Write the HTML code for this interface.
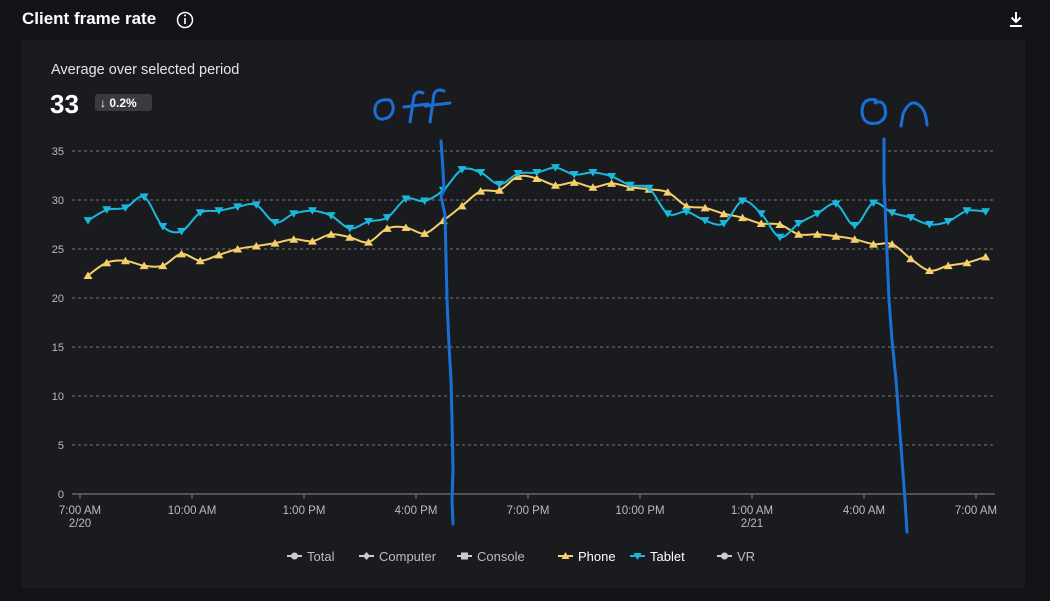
<!DOCTYPE html>
<html><head><meta charset="utf-8"><style>
body{margin:0;width:1050px;height:601px;background:#121316;font-family:"Liberation Sans",sans-serif;overflow:hidden;position:relative}
.title{position:absolute;left:22px;top:9px;color:#fff;font-weight:bold;font-size:17px}
.panel{position:absolute;left:22px;top:40px;width:1003px;height:548px;background:#1a1b1f}
</style></head><body>
<div class="title">Client frame rate</div>
<svg width="1050" height="601" style="position:absolute;left:0;top:0">
<circle cx="185" cy="20" r="7.5" fill="none" stroke="#fff" stroke-width="1.5"/>
<rect x="184.2" y="18" width="1.6" height="6" fill="#fff"/><circle cx="185" cy="15.5" r="1" fill="#fff"/>
<path d="M1016 12 v10 M1011.5 17.5 l4.5 4.5 l4.5 -4.5 M1010 26 h12" stroke="#fff" stroke-width="2" fill="none"/>
</svg>
<div class="panel"></div>
<svg id="c" width="1050" height="601" style="position:absolute;left:0;top:0" font-family="Liberation Sans, sans-serif">
<text x="51" y="74" fill="#e6e6e6" font-size="14.5">Average over selected period</text>
<text x="50" y="113" fill="#fff" font-size="26" font-weight="bold">33</text>
<rect x="95" y="94" width="57" height="17" rx="3" fill="#3a3b40"/>
<text x="100" y="107" fill="#fff" font-size="12" font-weight="bold">↓ 0.2%</text>
<g id="g"></g>
</svg>
<script>
const tab=[27.9,29.0,29.2,30.3,27.3,26.8,28.7,28.9,29.3,29.5,27.7,28.6,28.9,28.4,27.1,27.8,28.2,30.1,29.9,31.0,33.1,32.8,31.6,32.7,32.8,33.3,32.6,32.8,32.4,31.5,31.2,28.6,28.8,27.9,27.6,29.9,28.6,26.2,27.6,28.6,29.6,27.4,29.7,28.7,28.2,27.5,27.8,28.9,28.8];
const ph=[22.3,23.6,23.8,23.3,23.3,24.5,23.8,24.4,25.0,25.3,25.6,26.0,25.8,26.5,26.2,25.7,27.1,27.2,26.6,27.9,29.4,30.9,31.0,32.4,32.2,31.5,31.8,31.3,31.7,31.3,31.1,30.8,29.4,29.2,28.6,28.2,27.6,27.5,26.5,26.5,26.3,26.0,25.5,25.5,24.0,22.8,23.3,23.6,24.2];
const X=i=>88+i*18.7, Y=v=>494-v*9.8;
let s='';
for(let v=5;v<=35;v+=5){s+=`<line x1="72" x2="995" y1="${Y(v)}" y2="${Y(v)}" stroke="#777" stroke-dasharray="3,3" stroke-width="1"/>`;}
for(let v=0;v<=35;v+=5)s+=`<text x="64" y="${Y(v)+4}" fill="#bbb" font-size="11" text-anchor="end">${v}</text>`;
s+=`<line x1="72" x2="995" y1="494" y2="494" stroke="#888"/>`;
const lb=["7:00 AM","10:00 AM","1:00 PM","4:00 PM","7:00 PM","10:00 PM","1:00 AM","4:00 AM","7:00 AM"];
lb.forEach((t,k)=>{const x=80+k*112;s+=`<line x1="${x}" x2="${x}" y1="494" y2="499" stroke="#888"/><text x="${x}" y="514" fill="#bbb" font-size="11.5" text-anchor="middle">${t}</text>`;});
s+=`<text x="80" y="527" fill="#bbb" font-size="11.5" text-anchor="middle">2/20</text><text x="752" y="527" fill="#bbb" font-size="11.5" text-anchor="middle">2/21</text>`;
function path(a){const p=a.map((v,i)=>[X(i),Y(v)]);let d=`M${p[0]}`;for(let i=0;i<p.length-1;i++){const p0=p[i-1]||p[i],p1=p[i],p2=p[i+1],p3=p[i+2]||p2;const c1=[p1[0]+(p2[0]-p0[0])/6,p1[1]+(p2[1]-p0[1])/6],c2=[p2[0]-(p3[0]-p1[0])/6,p2[1]-(p3[1]-p1[1])/6];d+=`C${c1} ${c2} ${p2}`;}return d;}
s+=`<path d="${path(ph)}" stroke="#f5cf6a" stroke-width="2" fill="none"/>`;
ph.forEach((v,i)=>{const x=X(i),y=Y(v);s+=`<path d="M${x-4.5} ${y+3.5}L${x} ${y-4}L${x+4.5} ${y+3.5}Z" fill="#f5cf6a"/>`;});
s+=`<path d="${path(tab)}" stroke="#1ab8dc" stroke-width="2" fill="none"/>`;
tab.forEach((v,i)=>{const x=X(i),y=Y(v);s+=`<path d="M${x-4.5} ${y-3.5}L${x} ${y+4}L${x+4.5} ${y-3.5}Z" fill="#1ab8dc"/>`;});
const L=[["Total",287,"#ccc","c"],["Computer",359,"#ccc","d"],["Console",457,"#ccc","s"],["Phone",558,"#f5cf6a","u"],["Tablet",630,"#1ab8dc","v"],["VR",717,"#ccc","c"]];
L.forEach(([t,x,c,m])=>{s+=`<line x1="${x}" x2="${x+15}" y1="556" y2="556" stroke="${c}" stroke-width="2"/>`;const cx=x+7.5;
if(m=="c")s+=`<circle cx="${cx}" cy="556" r="3.5" fill="${c}"/>`;
if(m=="d")s+=`<path d="M${cx} 552L${cx+3.5} 556L${cx} 560L${cx-3.5} 556Z" fill="${c}"/>`;
if(m=="s")s+=`<rect x="${cx-3.5}" y="552.5" width="7" height="7" fill="${c}"/>`;
if(m=="u")s+=`<path d="M${cx-4} 559L${cx} 552L${cx+4} 559Z" fill="${c}"/>`;
if(m=="v")s+=`<path d="M${cx-4} 553L${cx} 560L${cx+4} 553Z" fill="${c}"/>`;
s+=`<text x="${x+20}" y="561" fill="${(m=='u'||m=='v')?'#fff':'#bbb'}" font-size="13">${t}</text>`;});
s+=`<g stroke="#1a6fd6" stroke-width="3" fill="none" stroke-linecap="round">
<path d="M441 141 L443 170 L444 190 L441 196 L445 215 L447 300 L449 345 L451 380 L452 420 L453 470 L452 500 L453 524"/>
<path d="M884 139 L884 180 L886 230 L889 300 L892 340 L896 380 L899 420 L902 460 L905 500 L907 532"/>
<path d="M390 100 q-16 -2 -15 12 q2 11 14 5 q8 -8 1 -17"/>
<path d="M410 122 L414 96 q3 -6 9 -3 M404 107 L428 104"/>
<path d="M430 122 L434 94 q3 -6 10 -3 M425 106 L450 103"/>
<path d="M876 100 q-14 -3 -14 12 q1 14 16 11 q11 -5 6 -18 q-3 -5 -9 -2"/>
<path d="M901 126 L903 114 q7 -16 16 -9 q7 5 8 20"/>
</g>`;
document.getElementById('g').innerHTML=s;
</script>
</body></html>
